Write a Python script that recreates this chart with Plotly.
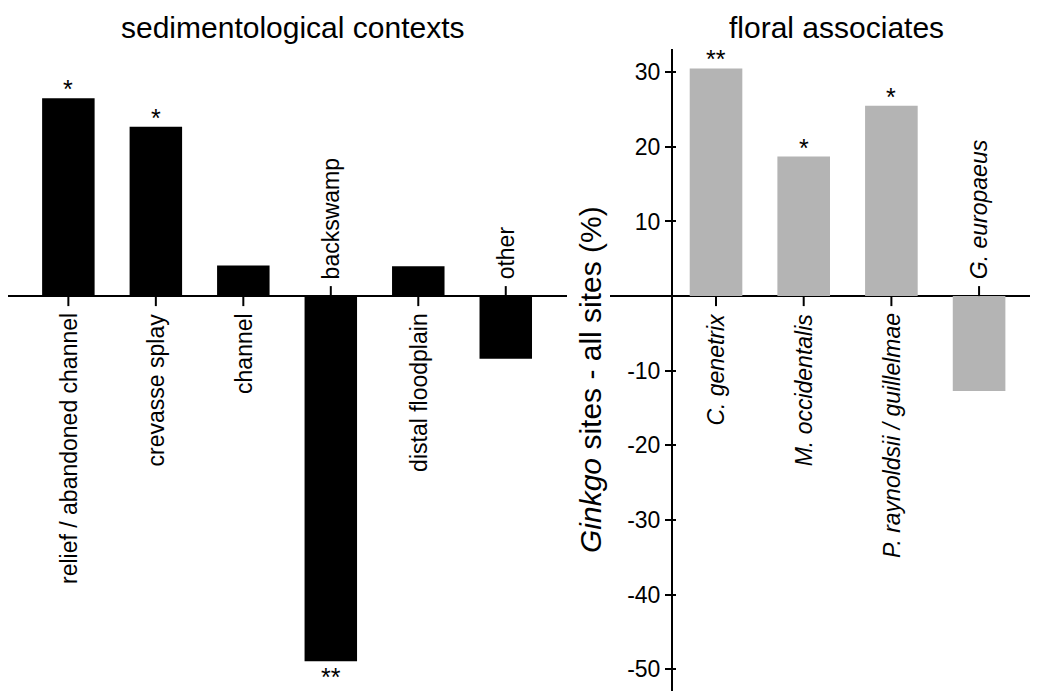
import plotly.graph_objects as go

# ---- data ----
sed_categories = ["relief / abandoned channel", "crevasse splay", "channel",
                  "backswamp", "distal floodplain", "other"]
sed_values = [26.5, 22.7, 4.1, -48.9, 4.0, -8.4]
sed_signif = ["*", "*", "", "**", "", ""]

flo_categories = ["C. genetrix", "M. occidentalis", "P. raynoldsii / guillelmae", "G. europaeus"]
flo_values = [30.5, 18.7, 25.5, -12.7]
flo_signif = ["**", "*", "*", ""]

y_ticks = [30, 20, 10, 0, -10, -20, -30, -40, -50]
y_ticklabels = ["30", "20", "10", "", "-10", "-20", "-30", "-40", "-50"]

titles = ["sedimentological contexts", "floral associates"]
y_title = "<i>Ginkgo</i> sites - all sites (%)"

# ---- layout constants (page pixels; page body has an 8px margin) ----
OFF = 8
PW, PH = 1038, 691
W, H = PW - OFF, PH - OFF
TOP = 49 - OFF
YR = [-52.9, 33.1]
FONT = "Liberation Sans, Arial, Helvetica, sans-serif"


def px(x):
    return (x - OFF) / W


def py(y):
    return 1 - ((y - OFF) - TOP) / (H - TOP)


sed_x = list(range(len(sed_categories)))
flo_x = list(range(len(flo_categories)))

fig = go.Figure()
fig.add_trace(go.Bar(x=sed_x, y=sed_values, marker=dict(color="black", line=dict(width=0)),
                     width=0.6, xaxis="x", yaxis="y", showlegend=False))
fig.add_trace(go.Bar(x=flo_x, y=flo_values, marker=dict(color="#b4b4b4", line=dict(width=0)),
                     width=0.6, xaxis="x2", yaxis="y2", showlegend=False))

annotations = []
shapes = []


def add_panel(xs, cats, vals, sig, xref, yref, italic):
    for x, c, v, s in zip(xs, cats, vals, sig):
        pos = v >= 0
        txt = f"<i>{c}</i>" if italic else c
        annotations.append(dict(x=x, y=0, xref=xref, yref=yref, text=txt, textangle=-90,
                                showarrow=False, font=dict(size=23, family=FONT, color="black"),
                                yanchor="top" if pos else "bottom",
                                yshift=-15 if pos else 15))
        shapes.append(dict(type="line", xref=xref, yref=yref, x0=x, x1=x,
                           ysizemode="pixel", yanchor=0, y0=0, y1=-10 if pos else 10,
                           line=dict(color="black", width=2)))
        if s:
            annotations.append(dict(x=x, y=v, xref=xref, yref=yref, text=s, showarrow=False,
                                    font=dict(size=25, family=FONT, color="black"),
                                    yanchor="bottom" if pos else "top",
                                    yshift=-7 if pos else 0))


add_panel(sed_x, sed_categories, sed_values, sed_signif, "x", "y", False)
add_panel(flo_x, flo_categories, flo_values, flo_signif, "x2", "y2", True)

# panel titles
for t, cx in zip(titles, [293, 836]):
    annotations.append(dict(x=px(cx), y=py(27), xref="paper", yref="paper",
                            text=t, showarrow=False, xanchor="center", yanchor="middle",
                            font=dict(size=30, family=FONT, color="black")))

# y-axis title
annotations.append(dict(x=px(590), y=py(380), xref="paper", yref="paper",
                        text=y_title, textangle=-90, showarrow=False,
                        xanchor="center", yanchor="middle",
                        font=dict(size=30, family=FONT, color="black")))

axis_pos = px(672)

fig.update_layout(
    width=W, height=H,
    margin=dict(l=0, r=0, t=TOP, b=0),
    plot_bgcolor="white", paper_bgcolor="white",
    font=dict(family=FONT, color="black"),
    xaxis=dict(domain=[px(8), px(567)], range=[-0.69, 5.70], visible=False),
    yaxis=dict(range=YR, showline=False, showticklabels=False, ticks="", showgrid=False,
               zeroline=True, zerolinecolor="black", zerolinewidth=2),
    xaxis2=dict(domain=[px(610), 1.0], range=[-1.209, 3.672], visible=False, anchor="y2"),
    yaxis2=dict(range=YR, anchor="free", position=axis_pos,
                showline=True, linecolor="black", linewidth=2,
                ticks="outside", ticklen=6, tickwidth=2, tickcolor="black",
                tickvals=y_ticks, ticktext=y_ticklabels,
                tickfont=dict(size=23, family=FONT, color="black"),
                showgrid=False, zeroline=True, zerolinecolor="black", zerolinewidth=2),
    yaxis3=dict(range=YR, anchor="free", position=axis_pos, overlaying="y2",
                showline=False, ticks="inside", ticklen=3, tickwidth=2, tickcolor="black",
                tickvals=y_ticks, showticklabels=False, showgrid=False, zeroline=False),
    annotations=annotations,
    shapes=shapes,
)
# empty trace so the overlay axis (inner tick stubs) is drawn
fig.add_trace(go.Scatter(x=[None], y=[None], xaxis="x2", yaxis="y3", showlegend=False,
                         hoverinfo="skip"))

fig.write_html("out.html")
